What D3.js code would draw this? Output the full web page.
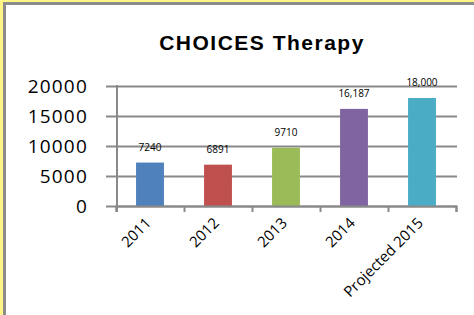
<!DOCTYPE html>
<html lang="en">
<head>
    <meta charset="UTF-8">
    <title>CHOICES Therapy</title>
    <script src="https://cdnjs.cloudflare.com/ajax/libs/d3/7.8.5/d3.min.js"></script>
    <style>
    html, body {
        margin: 0;
        background: #fff685;
    }
    svg {
        display: block;
    }
    </style>
</head>
<body>
    <div id="chart"></div>
    <script>
    // chart data
    var categories = ['2011', '2012', '2013', '2014', 'Projected 2015'];
    var values = [7240, 6891, 9710, 16187, 18000];
    var valueLabels = ['7240', '6891', '9710', '16,187', '18,000'];
    var barColors = ['#4f81bd', '#c0504d', '#9bbb59', '#8064a2', '#4bacc6'];
    var yTicks = [0, 5000, 10000, 15000, 20000];

    var width = 474;
    var height = 315;

    var plot = { left: 116, right: 456, top: 86, bottom: 206 };
    var gridColor = '#898989';

    var svg = d3.select('#chart')
        .append('svg')
            .attr('width', width)
            .attr('height', height);

    // frame: grey border, white panel
    svg.append('rect')
        .attr('x', 3).attr('y', 2)
        .attr('width', width).attr('height', height)
        .attr('fill', '#8c8c8c');
    svg.append('rect')
        .attr('x', 6).attr('y', 5)
        .attr('width', width).attr('height', height)
        .attr('fill', '#ffffff');

    svg.append('text')
        .attr('x', 262)
        .attr('y', 50)
        .attr('text-anchor', 'middle')
        .style('font-family', '"Liberation Sans", Arial, sans-serif')
        .style('font-weight', 'bold')
        .style('font-size', '21px')
        .style('letter-spacing', '1.5px')
        .text('CHOICES Therapy');

    var x = d3.scaleBand()
        .domain(categories)
        .range([plot.left, plot.right])
        .paddingInner(0.59)
        .paddingOuter(0.295);

    var y = d3.scaleLinear()
        .domain([0, 20000])
        .range([plot.bottom, plot.top]);

    // gridlines + y labels
    var yGrid = svg.append('g')
        .attr('transform', 'translate(106,0)')
        .call(d3.axisLeft(y)
            .tickValues(yTicks)
            .tickSize(-(plot.right + 1 - 106))
            .tickPadding(18)
            .tickFormat(d3.format('d')));
    yGrid.select('.domain').remove();
    yGrid.selectAll('line')
        .attr('stroke', gridColor)
        .attr('stroke-width', 2);
    yGrid.selectAll('text')
        .attr('fill', '#000')
        .style('font-family', '"Open Sans", sans-serif')
        .style('font-size', '19px')
        .style('letter-spacing', '1.2px');

    // vertical axis line
    svg.append('line')
        .attr('x1', plot.left + 1).attr('x2', plot.left + 1)
        .attr('y1', plot.top - 1).attr('y2', plot.bottom + 6)
        .attr('stroke', gridColor)
        .attr('stroke-width', 2);

    // bars
    svg.selectAll('.bar')
        .data(values)
        .enter()
        .append('rect')
        .attr('class', 'bar')
        .attr('x', function(d, i) { return x(categories[i]); })
        .attr('y', function(d) { return y(d); })
        .attr('width', x.bandwidth())
        .attr('height', function(d) { return y(0) - y(d); })
        .attr('fill', function(d, i) { return barColors[i]; });

    // value labels
    svg.selectAll('.val')
        .data(values)
        .enter()
        .append('text')
        .attr('class', 'val')
        .attr('x', function(d, i) { return x(categories[i]) + x.bandwidth() / 2; })
        .attr('y', function(d) { return y(d) - 12; })
        .attr('text-anchor', 'middle')
        .style('font-family', '"Open Sans", sans-serif')
        .style('font-size', '10px')
        .text(function(d, i) { return valueLabels[i]; });

    // x axis: ticks at category boundaries
    var xEdges = d3.scaleLinear()
        .domain([0, categories.length])
        .range([plot.left, plot.right]);
    var xAxis = svg.append('g')
        .attr('transform', 'translate(0,' + plot.bottom + ')')
        .call(d3.axisBottom(xEdges)
            .ticks(categories.length)
            .tickSize(6)
            .tickSizeOuter(6)
            .tickFormat(''));
    xAxis.selectAll('line, path')
        .attr('stroke', gridColor)
        .attr('stroke-width', 2);

    // category labels
    svg.selectAll('.cat')
        .data(categories)
        .enter()
        .append('text')
        .attr('class', 'cat')
        .attr('transform', function(d) {
            return 'translate(' + (x(d) + x.bandwidth() / 2 + 2) + ',224) rotate(-45)';
        })
        .attr('text-anchor', 'end')
        .style('font-family', '"Open Sans", sans-serif')
        .style('font-size', '15px')
        .text(function(d) { return d; });
    </script>
</body>
</html>
